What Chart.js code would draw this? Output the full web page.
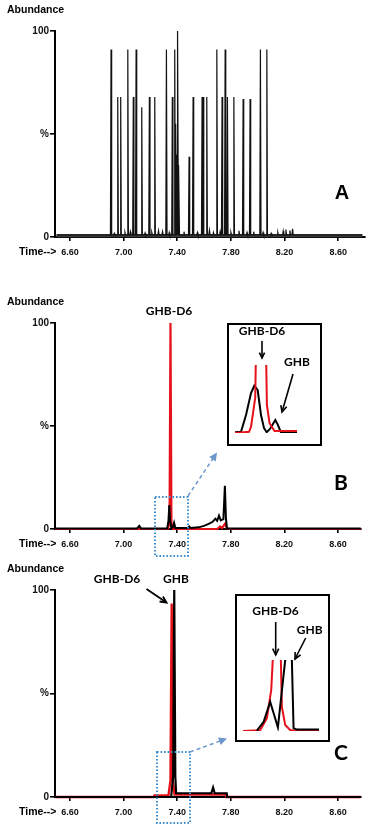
<!DOCTYPE html>
<html lang="en">
<head>
<meta charset="UTF-8">
<title>GHB / GHB-D6 chromatograms</title>
<script src="https://cdn.jsdelivr.net/npm/chart.js"></script>
<style>
  body { margin: 0; background: #fff; }
  #wrap { position: relative; width: 370px; height: 827px; overflow: hidden; }
  canvas { position: absolute; }
</style>
</head>
<body>
<div id="wrap">
  <canvas id="chartA" width="370" height="262" style="left:0;top:0"></canvas>
  <canvas id="chartB" width="370" height="298" style="left:0;top:262px"></canvas>
  <canvas id="chartC" width="370" height="267" style="left:0;top:560px"></canvas>
  <canvas id="insetB" width="95" height="123" style="left:227px;top:323px"></canvas>
  <canvas id="insetC" width="95" height="148" style="left:235px;top:594px"></canvas>
</div>
<script>
  // axis ticks
  const xTickValues = [6.6, 7.0, 7.4, 7.8, 8.2, 8.6];
  const xTickLabels = ['6.60', '7.00', '7.40', '7.80', '8.20', '8.60'];
  const yTickValues = [0, 50, 100];
  const yTickLabels = ['0', '%', '100'];

  // Panel A: peaks of the full chromatogram (retention time, % abundance)
  const aPeakTimes = [6.906, 6.956, 6.978, 7.031, 7.072, 7.093, 7.135, 7.192, 7.232, 7.319,
                      7.363, 7.381, 7.390, 7.398, 7.404, 7.412, 7.488, 7.518, 7.585, 7.593,
                      7.620, 7.695, 7.734, 7.757, 7.774, 7.822, 7.891, 7.943, 8.020, 8.068];
  const aPeakHeights = [91, 68, 68, 91, 68, 91, 63, 68, 68, 91,
                        68, 91, 55, 40, 100, 35, 39, 68, 68, 68,
                        68, 91, 68, 91, 68, 68, 67, 67, 91, 91];
  // small baseline bumps in panel A
  const aNoiseTimes = [6.93, 7.01, 7.05, 7.16, 7.21, 7.26, 7.29, 7.34, 7.45, 7.55, 7.64, 7.67,
                       7.72, 7.80, 7.86, 7.92, 7.97, 8.04, 8.10, 8.15, 8.19, 8.21, 8.24, 8.26];
  const aNoiseHeights = [1.8, 2.2, 2.6, 2, 2.2, 3, 2.6, 2.2, 2.6, 2.2, 3.2, 2.2,
                         2.6, 2.2, 3, 2.2, 2.6, 2.2, 1.8, 2.2, 2.8, 3.6, 3.2, 4];

  // Panel B: GHB (black) and GHB-D6 (red) traces
  const bRedTimes  = [6.49, 7.33, 7.343, 7.350, 7.357, 7.37, 7.70, 7.72, 7.735, 7.757, 7.77, 7.79, 8.77];
  const bRedValues = [0,    0,    3,     100,   3,     0,    0,    1.2,  0.5,   2.5,   0.3,  0,    0];
  const bBlackTimes  = [6.49, 7.10, 7.117, 7.13, 7.325, 7.335, 7.341, 7.347, 7.356, 7.368, 7.377, 7.386,
                        7.48, 7.49, 7.50, 7.56, 7.60, 7.635, 7.665, 7.685, 7.698, 7.712, 7.725, 7.745,
                        7.756, 7.764, 7.772, 8.77];
  const bBlackValues = [0.3, 0.3, 1.5, 0.3, 0.3, 4, 11.6, 4, 0.5, 0.8, 3, 0.5,
                        0.5, 1.2, 0.5, 0.8, 1.5, 2.5, 3.5, 5, 4, 6.5, 4.2, 4.8,
                        21, 5, 0.3, 0.3];
  // Panel B inset (zoom around 7.34 min)
  const ibRedTimes  = [7.306, 7.3307, 7.3342, 7.3416, 7.3432, 7.3518, 7.3604, 7.3622, 7.3668, 7.3756, 7.4152];
  const ibRedValues = [0,     0.3,    1.5,    8.6,    22,     100,    22,     6.9,    2.4,    0.5,    0.5];
  const ibBlackTimes  = [7.306, 7.3166, 7.3254, 7.3342, 7.340, 7.346, 7.3518, 7.3571, 7.3618, 7.3676, 7.377, 7.3815, 7.3868, 7.4152];
  const ibBlackValues = [0.2,   0.3,    4.4,    9.8,    11.6,  10.5,  4.4,    1.2,    0.2,    1.0,    3.2,   2.0,    0.2,    0.2];

  // Panel C: GHB (black) and GHB-D6 (red) traces
  const cRedTimes  = [6.49, 7.226, 7.23, 7.335, 7.350, 7.359, 7.367, 7.38, 7.765, 7.768, 8.77];
  const cRedValues = [0,    0,     0.8,  0.8,   8,     93.5,  8,     1.2,  1.2,   0,     0];
  const cBlackTimes  = [6.49, 7.355, 7.370, 7.378, 7.386, 7.392, 7.655, 7.668, 7.68, 7.77, 7.773, 8.77];
  const cBlackValues = [0,    0,     10,    100,   10,    1.8,   1.8,   4.5,   1.8,  1.8,  0,     0];
  // Panel C inset
  const icRedTimes  = [7.302, 7.3314, 7.3429, 7.3503, 7.3535, 7.360, 7.3665, 7.3685, 7.3742, 7.3827, 7.392, 7.432];
  const icRedValues = [0,     1,      18,     58,     110,    400,   110,    34,     8.5,    1.4,    0.3,   0.3];
  const icBlackTimes  = [7.3258, 7.3373, 7.3485, 7.3544, 7.3617, 7.3742, 7.380, 7.3856, 7.3885, 7.394, 7.432];
  const icBlackValues = [0.5,    13,     41,     25,     5,      100,    300,   100,    4,      2,     2];

  const RED = '#e5121b';
  const BLUE = '#3f8fd0';
  const FONT = '"Liberation Sans", Arial, sans-serif';
  const CALLOUT = 'bold 12px Lato, "Open Sans", sans-serif';
  Chart.defaults.font.family = FONT;

  const pairs = (xs, ys) => xs.map((x, i) => ({ x: x, y: ys[i] }));

  function spikeTrace(times, heights, start, end, base, hw) {
    const peaks = times.map((t, i) => [t, heights[i]]).sort((a, b) => a[0] - b[0]);
    const pts = [{ x: start, y: base }];
    peaks.forEach(p => {
      pts.push({ x: p[0] - hw, y: base }, { x: p[0], y: p[1] }, { x: p[0] + hw, y: base });
    });
    pts.push({ x: end, y: base });
    return pts;
  }

  // --- drawing helpers (page coordinates) ---
  function text(ctx, s, x, y, font, align) {
    ctx.font = font;
    ctx.fillStyle = '#000';
    ctx.textAlign = align || 'center';
    ctx.textBaseline = 'middle';
    ctx.fillText(s, x, y);
  }
  function arrow(ctx, x1, y1, x2, y2, opt) {
    opt = opt || {};
    const a = Math.atan2(y2 - y1, x2 - x1);
    const len = opt.head || 7;
    ctx.save();
    ctx.strokeStyle = opt.color || '#000';
    ctx.fillStyle = opt.color || '#000';
    ctx.lineWidth = opt.width || 1.8;
    ctx.setLineDash(opt.dash || []);
    ctx.beginPath();
    ctx.moveTo(x1, y1);
    ctx.lineTo(x2 - (opt.filled ? Math.cos(a) * len * 0.8 : 0), y2 - (opt.filled ? Math.sin(a) * len * 0.8 : 0));
    ctx.stroke();
    ctx.setLineDash([]);
    ctx.beginPath();
    ctx.moveTo(x2 - len * Math.cos(a - 0.45), y2 - len * Math.sin(a - 0.45));
    ctx.lineTo(x2, y2);
    ctx.lineTo(x2 - len * Math.cos(a + 0.45), y2 - len * Math.sin(a + 0.45));
    if (opt.filled) { ctx.closePath(); ctx.fill(); } else { ctx.stroke(); }
    ctx.restore();
  }
  function dottedBox(ctx, x1, y1, x2, y2) {
    ctx.save();
    ctx.strokeStyle = BLUE;
    ctx.lineWidth = 2;
    ctx.setLineDash([1.6, 1.9]);
    ctx.strokeRect(x1, y1, x2 - x1, y2 - y1);
    ctx.restore();
  }

  function overlay(id, left, top, fn) {
    return {
      id: id,
      afterDraw(chart) {
        const ctx = chart.ctx;
        ctx.save();
        ctx.translate(-left, -top);
        fn(ctx, chart);
        ctx.restore();
      }
    };
  }
  const whiteBg = {
    id: 'whiteBg',
    beforeDraw(chart) {
      const ctx = chart.ctx;
      ctx.save();
      ctx.fillStyle = '#fff';
      ctx.fillRect(0, 0, chart.width, chart.height);
      ctx.restore();
    }
  };

  function panelOptions(padTop, padRight, xMax, xAxisHeight) {
    return {
      responsive: false,
      animation: false,
      layout: { padding: { top: padTop, right: padRight, left: 0, bottom: 0 } },
      plugins: { legend: { display: false }, tooltip: { enabled: false } },
      elements: { point: { radius: 0 }, line: { tension: 0 } },
      scales: {
        x: {
          type: 'linear', min: 6.488, max: xMax,
          afterFit: s => { s.height = xAxisHeight; },
          afterBuildTicks: s => { s.ticks = xTickValues.map(v => ({ value: v })); },
          ticks: {
            callback: (v, i) => xTickLabels[i],
            font: { size: 9, weight: 'bold' }, color: '#111',
            padding: 6, maxRotation: 0, autoSkip: false
          },
          grid: { display: true, drawOnChartArea: false, drawTicks: true, tickLength: 4, color: '#000', lineWidth: 1.6 },
          border: { display: true, color: '#000', width: 2 }
        },
        y: {
          min: 0, max: 100,
          afterFit: s => { s.width = 55; },
          afterBuildTicks: s => { s.ticks = yTickValues.map(v => ({ value: v })); },
          ticks: {
            callback: (v, i) => yTickLabels[i],
            font: { size: 10, weight: 'bold' }, color: '#111', padding: 1
          },
          grid: { display: true, drawOnChartArea: false, drawTicks: true, tickLength: 5, color: '#000', lineWidth: 1.6 },
          border: { display: true, color: '#000', width: 2 }
        }
      }
    };
  }

  function commonLabels(ctx, chart, top) {
    const b = chart.chartArea.bottom + top;
    const t = chart.chartArea.top + top;
    text(ctx, 'Abundance', 7, t - 21, 'bold 10.5px ' + FONT, 'left');
    text(ctx, 'Time-->', 19, b + 15.5, 'bold 10.5px ' + FONT, 'left');
  }

  function line(data, color, width) {
    return { data: data, borderColor: color, borderWidth: width, pointRadius: 0, fill: false, clip: false };
  }

  // ---------- Panel A ----------
  new Chart(document.getElementById('chartA'), {
    type: 'line',
    data: {
      datasets: [
        line(spikeTrace(aPeakTimes.concat(aNoiseTimes), aPeakHeights.concat(aNoiseHeights), 6.50, 8.78, 1.0, 0.0045), '#111', 1.2),
        line(pairs([6.50, 8.78], [0.6, 0.6]), '#3a3a3a', 3)
      ]
    },
    options: panelOptions(31, 5, 8.80, 25),
    plugins: [overlay('labA', 0, 0, (ctx, chart) => {
      commonLabels(ctx, chart, 0);
      text(ctx, 'A', 342, 193, 'bold 20px ' + FONT);
    })]
  });

  // ---------- Panel B ----------
  new Chart(document.getElementById('chartB'), {
    type: 'line',
    data: {
      datasets: [
        line(pairs(bBlackTimes, bBlackValues), '#000', 2),
        line(pairs(bRedTimes, bRedValues), RED, 2.2)
      ]
    },
    options: panelOptions(61, 9, 8.772, 31),
    plugins: [overlay('labB', 0, 262, (ctx, chart) => {
      commonLabels(ctx, chart, 262);
      text(ctx, 'GHB-D6', 169, 311, CALLOUT);
      text(ctx, 'B', 341, 483, 'bold 21px Lato, ' + FONT);
      dottedBox(ctx, 155, 497, 188, 556);
      arrow(ctx, 188, 496, 217, 452.5, { color: '#6b97cb', width: 1.5, dash: [4, 3], head: 9, filled: true });
    })]
  });

  // ---------- Panel C ----------
  new Chart(document.getElementById('chartC'), {
    type: 'line',
    data: {
      datasets: [
        line(pairs(cBlackTimes, cBlackValues), '#000', 2.2),
        line(pairs(cRedTimes, cRedValues), RED, 2.4)
      ]
    },
    options: panelOptions(30, 9, 8.772, 30),
    plugins: [overlay('labC', 0, 560, (ctx, chart) => {
      commonLabels(ctx, chart, 560);
      text(ctx, 'GHB-D6', 117, 579.5, CALLOUT);
      text(ctx, 'GHB', 176, 579.5, CALLOUT);
      arrow(ctx, 146.5, 589, 166.5, 602.5, { width: 1.8, head: 7 });
      text(ctx, 'C', 341, 753, 'bold 21px Lato, ' + FONT);
      dottedBox(ctx, 157, 752, 190, 823);
      arrow(ctx, 190, 752, 227, 738.5, { color: '#6b97cb', width: 1.5, dash: [4, 3], head: 9, filled: true });
    })]
  });

  // ---------- insets ----------
  function insetOptions(pad, xMin, xMax, yMax) {
    return {
      responsive: false,
      animation: false,
      layout: { padding: pad },
      plugins: { legend: { display: false }, tooltip: { enabled: false } },
      elements: { point: { radius: 0 }, line: { tension: 0 } },
      scales: {
        x: { type: 'linear', min: xMin, max: xMax, display: false },
        y: { min: 0, max: yMax, display: false }
      }
    };
  }
  function insetLine(data, color) {
    return { data: data, borderColor: color, borderWidth: 2, pointRadius: 0, fill: false };
  }
  function frame(ctx, chart) {
    ctx.save();
    ctx.strokeStyle = '#000';
    ctx.lineWidth = 2;
    ctx.strokeRect(1, 1, chart.width - 2, chart.height - 2);
    ctx.restore();
  }

  new Chart(document.getElementById('insetB'), {
    type: 'line',
    data: {
      datasets: [
        insetLine(pairs(ibRedTimes, ibRedValues), RED),
        insetLine(pairs(ibBlackTimes, ibBlackValues), '#000')
      ]
    },
    options: insetOptions({ left: 8, right: 25, top: 42, bottom: 13 }, 7.306, 7.4152, 16.7),
    plugins: [whiteBg, {
      id: 'frameB', afterDraw(chart) { frame(chart.ctx, chart); }
    }, overlay('labIB', 227, 323, ctx => {
      text(ctx, 'GHB-D6', 262, 331.5, CALLOUT);
      arrow(ctx, 262, 341, 262, 358, { width: 1.6, head: 6 });
      text(ctx, 'GHB', 297, 362.5, CALLOUT);
      arrow(ctx, 293, 374, 282, 412, { width: 1.6, head: 7 });
    })]
  });

  new Chart(document.getElementById('insetC'), {
    type: 'line',
    data: {
      datasets: [
        insetLine(pairs(icBlackTimes, icBlackValues), '#000'),
        insetLine(pairs(icRedTimes, icRedValues), RED)
      ]
    },
    options: insetOptions({ left: 8, right: 11, top: 66, bottom: 11 }, 7.302, 7.432, 100),
    plugins: [whiteBg, {
      id: 'frameC', afterDraw(chart) { frame(chart.ctx, chart); }
    }, overlay('labIC', 235, 594, ctx => {
      text(ctx, 'GHB-D6', 275.5, 611, CALLOUT);
      arrow(ctx, 275.7, 622, 275.7, 655, { width: 1.6, head: 7 });
      text(ctx, 'GHB', 309.7, 630, CALLOUT);
      arrow(ctx, 305.7, 638, 295, 659, { width: 1.6, head: 7 });
    })]
  });
</script>
</body>
</html>
